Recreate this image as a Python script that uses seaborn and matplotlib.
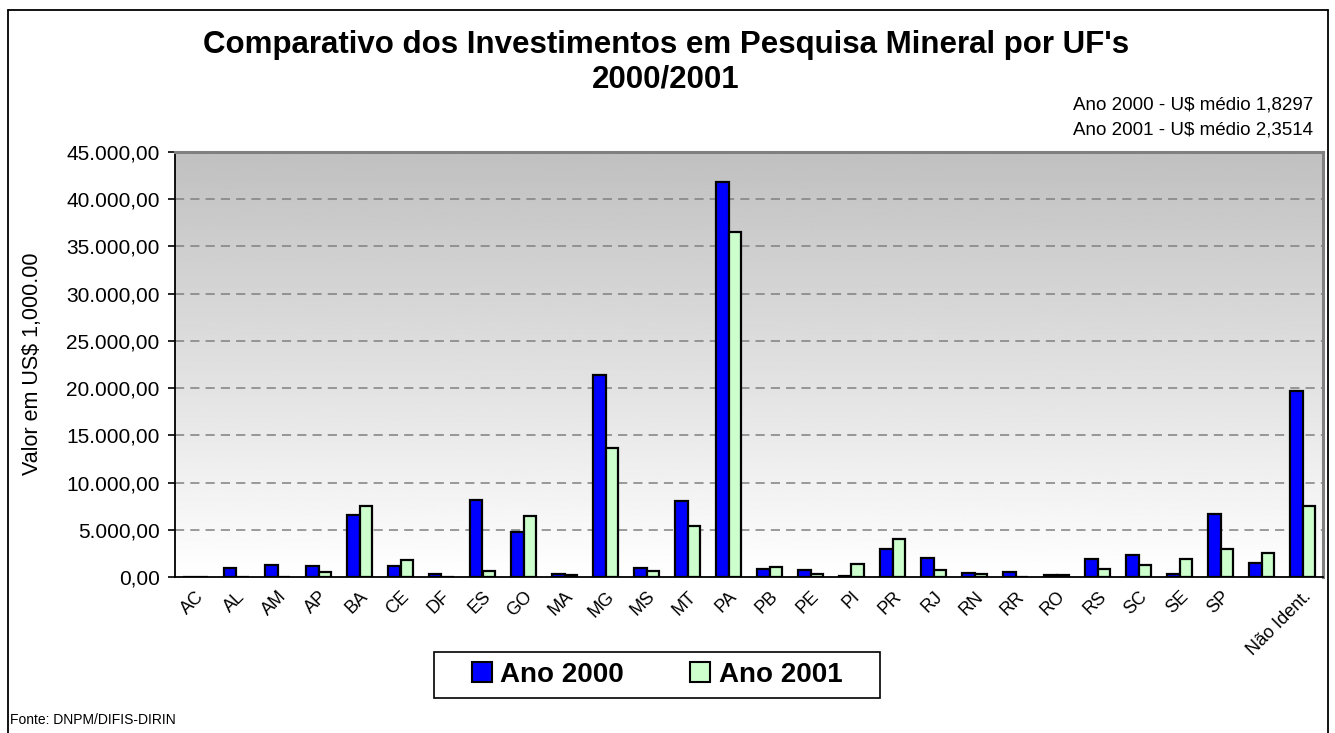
import numpy as np
import pandas as pd
import matplotlib
matplotlib.use("Agg")
import matplotlib.pyplot as plt
from matplotlib.patches import Patch, Rectangle
from matplotlib.lines import Line2D
import seaborn as sns

# ── DATA (US$ 1,000)
ufs = ["AC", "AL", "AM", "AP", "BA", "CE", "DF", "ES", "GO", "MA", "MG", "MS", "MT", "PA",
       "PB", "PE", "PI", "PR", "RJ", "RN", "RR", "RO", "RS", "SC", "SE", "SP", " ", "Não Ident."]
ano_2000 = [0, 950, 1240, 1130, 6600, 1160, 350, 8120, 4770, 280, 21400, 950, 8020, 41860,
            880, 710, 100, 3000, 2050, 420, 560, 220, 1910, 2330, 350, 6640, 1450, 19730]
ano_2001 = [0, 50, 50, 500, 7550, 1770, 0, 640, 6490, 175, 13660, 670, 5370, 36500,
            1030, 280, 1380, 3990, 740, 350, 0, 220, 880, 1240, 1900, 3000, 2510, 7520]
series = ["Ano 2000", "Ano 2001"]
cores = ["#0000FF", "#CCFFCC"]
y_ticks = np.arange(0, 45001, 5000)

df = pd.DataFrame({
    "uf": ufs * 2,
    "valor": ano_2000 + ano_2001,
    "ano": [series[0]] * len(ufs) + [series[1]] * len(ufs),
})

sns.set_theme(style="white")
plt.rcParams["font.family"] = ["Liberation Sans", "DejaVu Sans"]
plt.rcParams["text.color"] = "black"
plt.rcParams["xtick.color"] = "black"
plt.rcParams["ytick.color"] = "black"
plt.rcParams["axes.labelcolor"] = "black"

W, H = 1335, 733
fig = plt.figure(figsize=(W / 100, H / 100), dpi=100)
fig.patch.set_facecolor("white")
ax = fig.add_axes([175 / W, 1 - 577 / H, (1323 - 175) / W, (577 - 152) / H])

# gradient background of plot area (gray on top -> white at bottom)
grad = np.linspace(192, 255, 256).reshape(-1, 1) / 255.0
ax.imshow(np.repeat(grad, 2, axis=1), cmap="gray", vmin=0, vmax=1, aspect="auto",
          extent=[0, 1, 0, 1], origin="upper", transform=ax.transAxes, zorder=-5)

sns.barplot(data=df, x="uf", y="valor", hue="ano", order=ufs, hue_order=series,
            palette=cores, edgecolor="black", linewidth=1.6, width=0.6, gap=0,
            saturation=1, ax=ax, legend=False, zorder=3)

ax.set_xlim(-0.5, len(ufs) - 0.5)
ax.set_ylim(0, 45000)
ax.set_yticks(y_ticks)
ax.set_yticklabels([f"{v:,.2f}".replace(",", "X").replace(".", ",").replace("X", ".") for v in y_ticks],
                   fontsize=15)
for v in y_ticks[1:-1]:
    ax.axhline(v, color="#808080", lw=1.1, ls=(0, (6, 4)), zorder=1)

ax.set_xticks(range(len(ufs)))
ax.set_xticklabels(ufs, rotation=45, ha="right", rotation_mode="anchor", fontsize=13)
ax.set_xticks(np.arange(-0.5, len(ufs)), minor=True)
ax.tick_params(axis="x", which="major", length=0, pad=8)
ax.tick_params(axis="x", which="minor", length=5, width=1.2, color="black", direction="out")
ax.tick_params(axis="y", length=5, width=1.2, color="black", direction="out", left=True, pad=6)
ax.set_xlabel("")
ax.set_ylabel("")
fig.text(33 / W, 1 - 364 / H, "Valor em US$ 1,000.00", rotation=90, ha="center", va="center",
         fontsize=15.5)

for s in ["left", "bottom"]:
    ax.spines[s].set_color("black")
    ax.spines[s].set_linewidth(1.3)
for s in ["top", "right"]:
    ax.spines[s].set_color("#808080")
    ax.spines[s].set_linewidth(2.2)

# legend (frame drawn separately to get the wide box)
handles = [Patch(facecolor=c, edgecolor="black", linewidth=1.5, label=l) for c, l in zip(cores, series)]
fig.legend(handles=handles, loc="center", bbox_to_anchor=(657 / W, 1 - 675 / H), ncol=2,
           prop={"weight": "bold", "size": 20}, frameon=False,
           handlelength=0.72, handleheight=0.72, handletextpad=0.3, columnspacing=2.4,
           borderpad=0.2)
fig.add_artist(Rectangle((434 / W, 1 - 698 / H), (880 - 434) / W, (698 - 652) / H,
                         transform=fig.transFigure, fill=False, edgecolor="black", lw=1.2))

# titles and notes
fig.text(666 / W, 1 - 45 / H, "Comparativo dos Investimentos em Pesquisa Mineral por UF's",
         ha="center", va="center", fontsize=22.5, fontweight="bold")
fig.text(666 / W, 1 - 80 / H, "2000/2001", ha="center", va="center", fontsize=22.5, fontweight="bold")
fig.text(1313 / W, 1 - 105 / H, "Ano 2000 - U$ médio 1,8297", ha="right", va="center", fontsize=13.5)
fig.text(1313 / W, 1 - 130 / H, "Ano 2001 - U$ médio 2,3514", ha="right", va="center", fontsize=13.5)
fig.text(10 / W, 1 - 720 / H, "Fonte: DNPM/DIFIS-DIRIN", ha="left", va="center", fontsize=10)

# outer border of the chart
for xs, ys in [([8, 8], [H + 5, 10]), ([8, 1328], [10, 10]), ([1328, 1328], [10, H + 5])]:
    fig.add_artist(Line2D([x / W for x in xs], [1 - y / H for y in ys], color="black", lw=1.3))

fig.savefig("out.png", dpi=100)
